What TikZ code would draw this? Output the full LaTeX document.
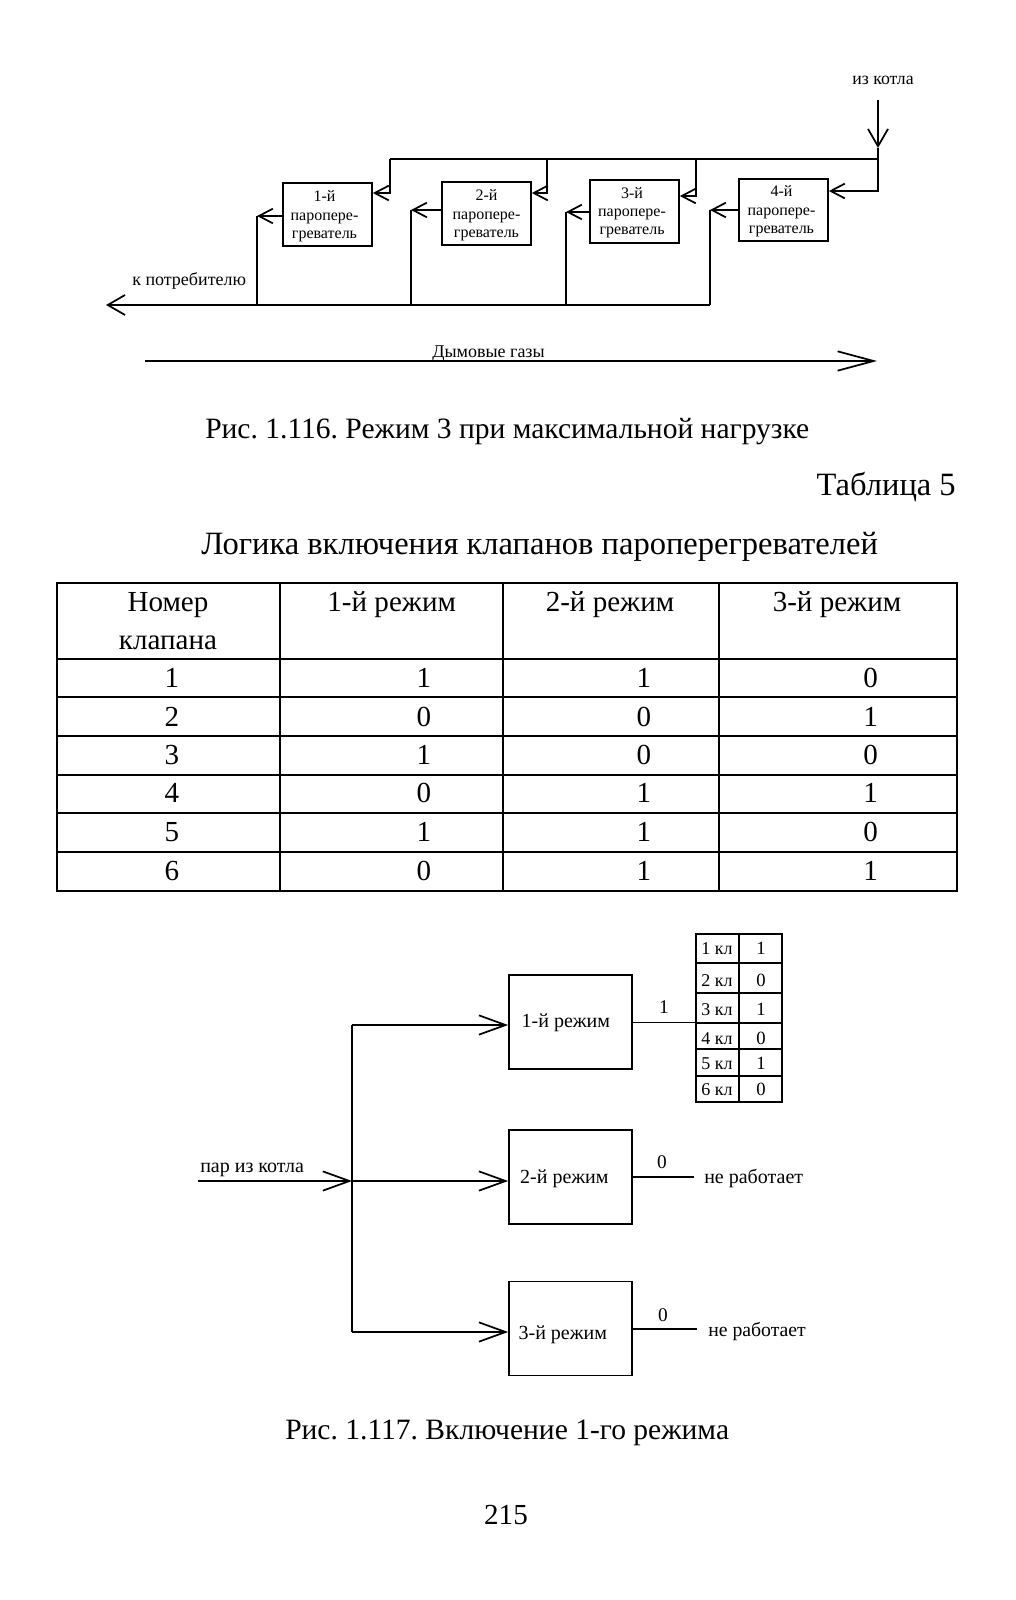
\documentclass[tikz,border=0pt]{standalone}
\usepackage{fontspec}
\setmainfont{Liberation Serif}
\usetikzlibrary{arrows.meta}
\newcommand{\fsz}[1]{\fontsize{#1}{#1}\selectfont}
\tikzset{
  x=0.75pt,y=-0.75pt,
  ln/.style={line width=1.3pt,line join=miter},
  gridline/.style={line width=1.3pt},
  txt/.style={inner sep=0pt,anchor=base},
  txtl/.style={inner sep=0pt,anchor=base west},
  txtr/.style={inner sep=0pt,anchor=base east},
  body/.style={font=\fsz{21.8pt}},
  captxt/.style={font=\fsz{22.15pt}},
  titletxt/.style={font=\fsz{24.4pt}},
  pbox/.style={draw,line width=1.3pt,inner sep=0pt,minimum width=66.75pt,minimum height=47pt,font=\fsz{12pt},align=center},
  rbox/.style={draw,line width=1.3pt,inner sep=0pt,minimum width=92.25pt,minimum height=70.5pt,font=\fsz{15pt}},
  smallarr/.style={ln,-{Straight Barb[length=10.5pt,width=11pt]}},
  midarr/.style={ln,-{Straight Barb[length=13pt,width=15pt]}},
  longarr/.style={ln,-{Straight Barb[length=27pt,width=14.5pt]}},
  feedarr/.style={ln,-{Straight Barb[length=20pt,width=14.5pt]}},
  celltxt/.style={txt,font=\fsz{13.5pt}},
}
\newcommand{\boxlines}[3]{\hspace*{#1}\raisebox{#2}[0pt][0pt]{\begin{tabular}[t]{@{}c@{}}#3\end{tabular}}}
\newcommand{\modetxt}[3]{\hspace*{#1}\raisebox{#2}[0pt][0pt]{#3}}
\begin{document}
\frenchspacing
\begin{tikzpicture}
\useasboundingbox[fill=white] (0,0) rectangle (1015,1600);

% --- Fig. 1.116 ---
\node[pbox] (b1) at (327.5,214.5) {\boxlines{-4.5pt}{9.4pt}{1-й\\[1.8pt]паропере-\\[1.8pt]греватель}};
\node[pbox] (b2) at (486.5,213.5) {\boxlines{0pt}{9.6pt}{2-й\\[1.8pt]паропере-\\[1.8pt]греватель}};
\node[pbox] (b3) at (634.5,211.5) {\boxlines{-3.7pt}{10pt}{3-й\\[1.8pt]паропере-\\[1.8pt]греватель}};
\node[pbox] (b4) at (783.5,210) {\boxlines{-3pt}{10pt}{4-й\\[1.8pt]паропере-\\[1.8pt]греватель}};

\node[txt,font=\fsz{13.3pt}] (src) at (883,84) {из котла};
\coordinate (inTop) at (878,100);
\coordinate (inJ) at (878,159);
\coordinate (inT) at (878,148);
\coordinate (d4) at (878,191);
\coordinate (d3t) at (696,159);
\coordinate (d3) at (696,196);
\coordinate (d2t) at (547,159);
\coordinate (d2) at (547,193);
\coordinate (d1t) at (390,159);
\coordinate (d1) at (390,193);
\draw[midarr] (inTop) -- (inT);
\draw[ln] (inT) -- (inJ);
\draw[ln] (inJ) -- (d1t);
\draw[smallarr] (inJ) -- (d4) -- (b4.east |- d4);
\draw[smallarr] (d3t) -- (d3) -- (b3.east |- d3);
\draw[smallarr] (d2t) -- (d2) -- (b2.east |- d2);
\draw[smallarr] (d1t) -- (d1) -- (b1.east |- d1);

\coordinate (o1) at (257,216);
\coordinate (o2) at (411,210);
\coordinate (o3) at (566,212);
\coordinate (o4) at (710,210);
\coordinate (busR) at (710,305);
\coordinate (busL) at (106,305);
\draw[smallarr] (b1.west |- o1) -- (o1);
\draw[smallarr] (b2.west |- o2) -- (o2);
\draw[smallarr] (b3.west |- o3) -- (o3);
\draw[smallarr] (b4.west |- o4) -- (o4);
\draw[ln] (o1) -- (o1 |- busR);
\draw[ln] (o2) -- (o2 |- busR);
\draw[ln] (o3) -- (o3 |- busR);
\draw[ln] (o4) -- (busR);
\draw[midarr] (busR) -- (busL);
\node[txtl,font=\fsz{13.5pt}] (cons) at (132,285) {к потребителю};

\coordinate (gasL) at (145,361);
\coordinate (gasR) at (877,361);
\draw[longarr] (gasL) -- (gasR);
\node[txtl,font=\fsz{13.5pt}] (gas) at (432,357.5) {Дымовые газы};

\node[txtl,captxt] (cap1) at (205,438.5) {Рис. 1.116. Режим 3 при максимальной нагрузке};

% --- Table 5 ---
\node[txtr,titletxt] (tabno) at (956,495.5) {Таблица 5};
\node[txtl,titletxt] (tabt) at (201,554) {Логика включения клапанов пароперегревателей};

\draw[gridline] (56.7,583) rectangle (956.7,890.7);
\foreach \yy in {658.7,697.3,735.7,774.7,813.3,851.7} \draw[gridline] (56.7,\yy) -- (956.7,\yy);
\foreach \xx in {279.7,502.7,718.7} \draw[gridline] (\xx,583) -- (\xx,890.7);

\node[txt,body] (h1a) at (168,611) {Номер};
\node[txt,body] (h1b) at (168,649) {клапана};
\node[txt,body] (h2) at (391.7,611) {1-й режим};
\node[txt,body] (h3) at (610,611) {2-й режим};
\node[txt,body] (h4) at (837,611) {3-й режим};
\foreach \yy/\a/\b/\c/\d in {687/1/1/1/0,726/2/0/0/1,764/3/1/0/0,802.7/4/0/1/1,841/5/1/1/0,880/6/0/1/1}{
  \node[txt,body] (ra\a) at (172,\yy) {\a};
  \node[txt,body] (rb\a) at (424,\yy) {\b};
  \node[txt,body] (rc\a) at (644,\yy) {\c};
  \node[txt,body] (rd\a) at (870.7,\yy) {\d};
}

% --- Fig. 1.117 ---
\node[rbox] (m1) at (570.5,1022) {\modetxt{-6.9pt}{-3.75pt}{1-й режим}};
\node[rbox] (m2) at (570.5,1177) {\modetxt{-9.2pt}{-4.5pt}{2-й режим}};
\node[rbox] (m3) at (570.5,1328.5) {\modetxt{-11.5pt}{-7.9pt}{3-й режим}};

\coordinate (inL) at (198,1181);
\coordinate (hub) at (352,1181);
\coordinate (hubT) at (352,1025);
\coordinate (hubB) at (352,1332);
\draw[ln] (hubT) -- (hubB);
\draw[feedarr] (inL) -- (hub);
\draw[feedarr] (hubT) -- (m1.west |- hubT);
\draw[feedarr] (hub) -- (m2.west |- hub);
\draw[feedarr] (hubB) -- (m3.west |- hubB);
\node[txtl,font=\fsz{15pt}] (steam) at (200,1172) {пар из котла};

\coordinate (tL) at (696,1022.5);
\draw[ln] (m1.east |- tL) -- (tL);
\node[txt,font=\fsz{14.5pt}] (v1) at (664,1013) {1};

\coordinate (e2) at (694,1177);
\coordinate (e3) at (697,1329);
\draw[ln] (m2.east |- e2) -- (e2);
\draw[ln] (m3.east |- e3) -- (e3);
\node[txt,font=\fsz{14.5pt}] (v2) at (662,1168) {0};
\node[txt,font=\fsz{14.5pt}] (v3) at (663,1321) {0};
\node[txtl,font=\fsz{15pt}] (off2) at (704,1183) {не работает};
\node[txtl,font=\fsz{14.8pt}] (off3) at (708,1336) {не работает};

\draw[gridline] (696,934) rectangle (782,1102);
\draw[gridline] (739,934) -- (739,1102);
\foreach \yy in {963,993,1023,1049,1076} \draw[gridline] (696,\yy) -- (782,\yy);
\foreach \yy/\n/\v in {954/1/1,986/2/0,1015/3/1,1044/4/0,1069/5/1,1095/6/0}{
  \node[celltxt] (kl\n) at (717,\yy) {\n{} кл};
  \node[celltxt,font=\fsz{14pt}] (kv\n) at (761,\yy) {\v};
}

\node[txtl,captxt] (cap2) at (285,1439) {Рис. 1.117. Включение 1-го режима};
\node[txt,body] (page) at (506,1524) {215};
\end{tikzpicture}
\end{document}
